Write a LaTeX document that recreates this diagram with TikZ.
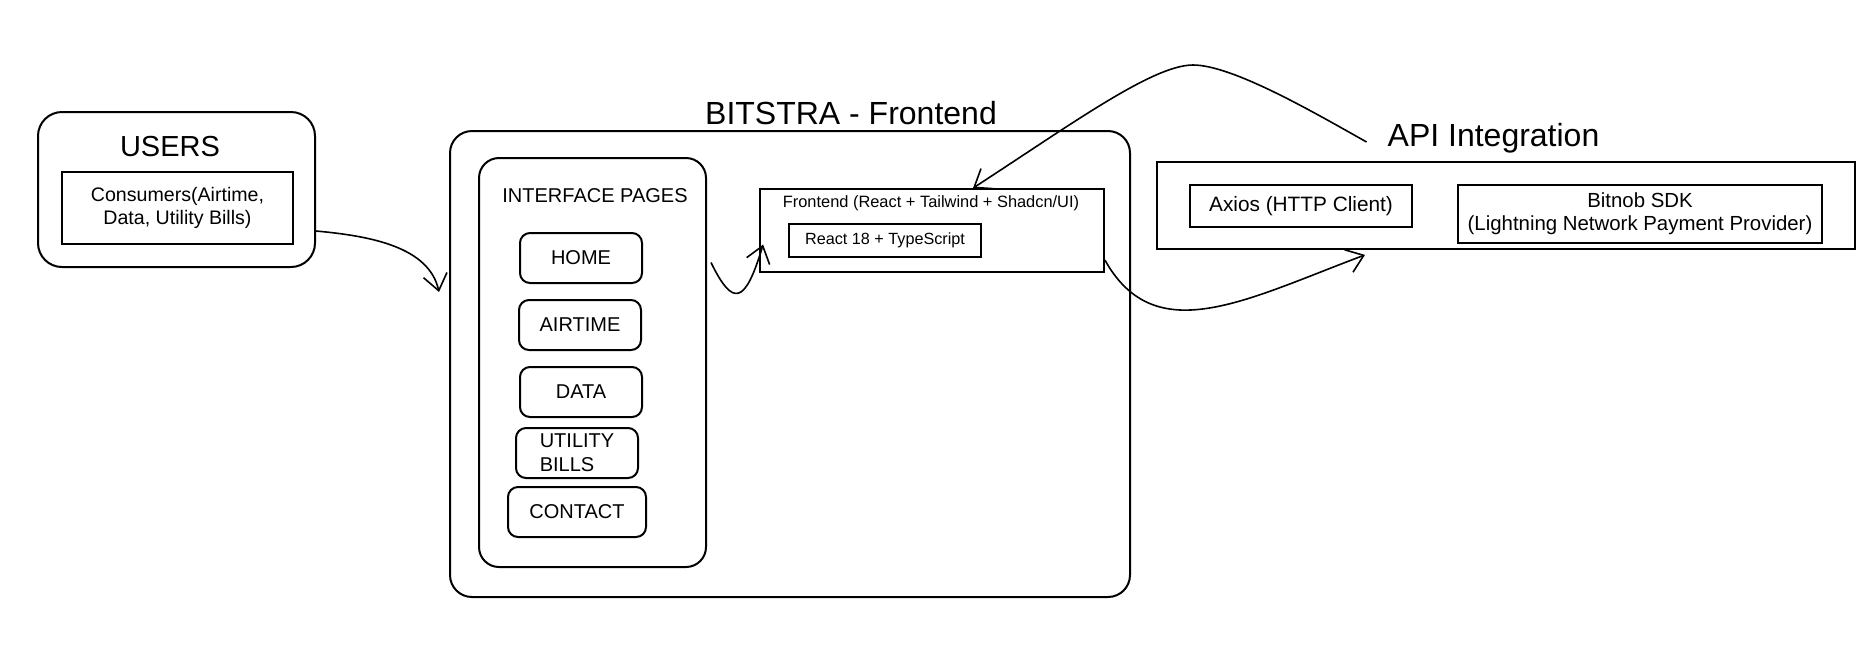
\documentclass[tikz,border=0pt]{standalone}
\usepackage{fontspec}
\setmainfont{Liberation Sans}
\usetikzlibrary{positioning, arrows.meta}

\newcommand{\sketchfont}[2]{\fontsize{#1}{#2}\selectfont}

\tikzset{
  roundbox/.style={draw, line width=1pt, rounded corners=#1},
  roundbox/.default=6pt,
  plainbox/.style={draw, line width=0.9pt, inner sep=2pt},
  flow/.style={line width=0.8pt, -{Straight Barb[length=8pt,width=12pt]}},
}

\begin{document}
\begin{tikzpicture}[x=0.5pt, y=-0.5pt]
  \useasboundingbox (0,0) rectangle (1867,666);

  % Users block
  \node[roundbox=12pt, minimum width=138.5pt, minimum height=77.5pt] (users) at (176.5,189.5) {};
  \node[font=\sketchfont{14.5pt}{17pt}] (userstitle) at (170,147) {USERS};
  \node[plainbox, minimum width=115.5pt, minimum height=36pt, align=center,
        font=\sketchfont{9.8pt}{11.5pt}] (consumers) at (177.5,208) {Consumers(Airtime,\\Data, Utility Bills)};

  % Frontend block
  \node[roundbox=11pt, minimum width=340pt, minimum height=233pt] (fe) at (790,364) {};
  \node[font=\sketchfont{16pt}{19pt}] (fetitle) at (851,113) {BITSTRA - Frontend};
  \node[roundbox=10pt, minimum width=113.5pt, minimum height=204.5pt] (pages) at (592.5,362.5) {};
  \node[font=\sketchfont{10pt}{12pt}] (pagestitle) at (595,196) {INTERFACE PAGES};

  % Page buttons
  \foreach \nm/\lbl/\cx/\cy/\btnw in {home/HOME/581/258/61, airtime/AIRTIME/580/325/61,
      data/DATA/581/392/61, utility/{UTILITY\\BILLS}/577/453/61, contact/CONTACT/577/512/69}
    \node[roundbox=5pt, minimum width=\btnw pt, minimum height=25pt, inner sep=2pt,
          align=left, font=\sketchfont{10pt}{12pt}] (\nm) at (\cx,\cy) {\lbl};

  % Stack box
  \node[plainbox, minimum width=172pt, minimum height=41.5pt] (stack) at (932,230.5) {};
  \node[font=\sketchfont{8.2pt}{10pt}] (stacktitle) at (931,203) {Frontend (React + Tailwind + Shadcn/UI)};
  \node[plainbox, minimum width=96pt, minimum height=16.5pt,
        font=\sketchfont{8.1pt}{10pt}] (react) at (885,240.5) {React 18 + TypeScript};

  % API block
  \node[font=\sketchfont{16pt}{19pt}] (apititle) at (1493.5,138) {API Integration};
  \node[plainbox, minimum width=349pt, minimum height=43.5pt] (api) at (1506,205.5) {};
  \node[plainbox, minimum width=111pt, minimum height=21pt,
        font=\sketchfont{10.4pt}{12pt}] (axios) at (1301,206) {Axios (HTTP Client)};
  \node[plainbox, minimum width=182pt, minimum height=29pt, align=center,
        font=\sketchfont{10.2pt}{11.5pt}] (bitnob) at (1640,214) {Bitnob SDK\\(Lightning Network Payment Provider)};

  % Connectors
  \draw[flow] ([yshift=-20.75pt]users.east) .. controls +(55,5) and +(-10,-45) .. ([xshift=-5pt,yshift=36pt]fe.west);
  \draw[flow] ([xshift=2pt,yshift=50pt]pages.east) .. controls +(22,45) and +(-18,60) .. ([xshift=2pt,yshift=-7pt]stack.west);
  \coordinate (apipeak) at (1193,65);
  \draw[flow] ([xshift=-7pt,yshift=-2pt]apititle.west) .. controls +(-50,-28) and +(40,0) .. (apipeak)
              .. controls +(-40,0) and +(100,-65) .. ([xshift=20.5pt]stack.north);
  \draw[flow] ([yshift=-14.75pt]stack.east) .. controls +(50,90) and +(-120,45) .. ([xshift=-70.5pt,yshift=-2.5pt]api.south);
\end{tikzpicture}
\end{document}
